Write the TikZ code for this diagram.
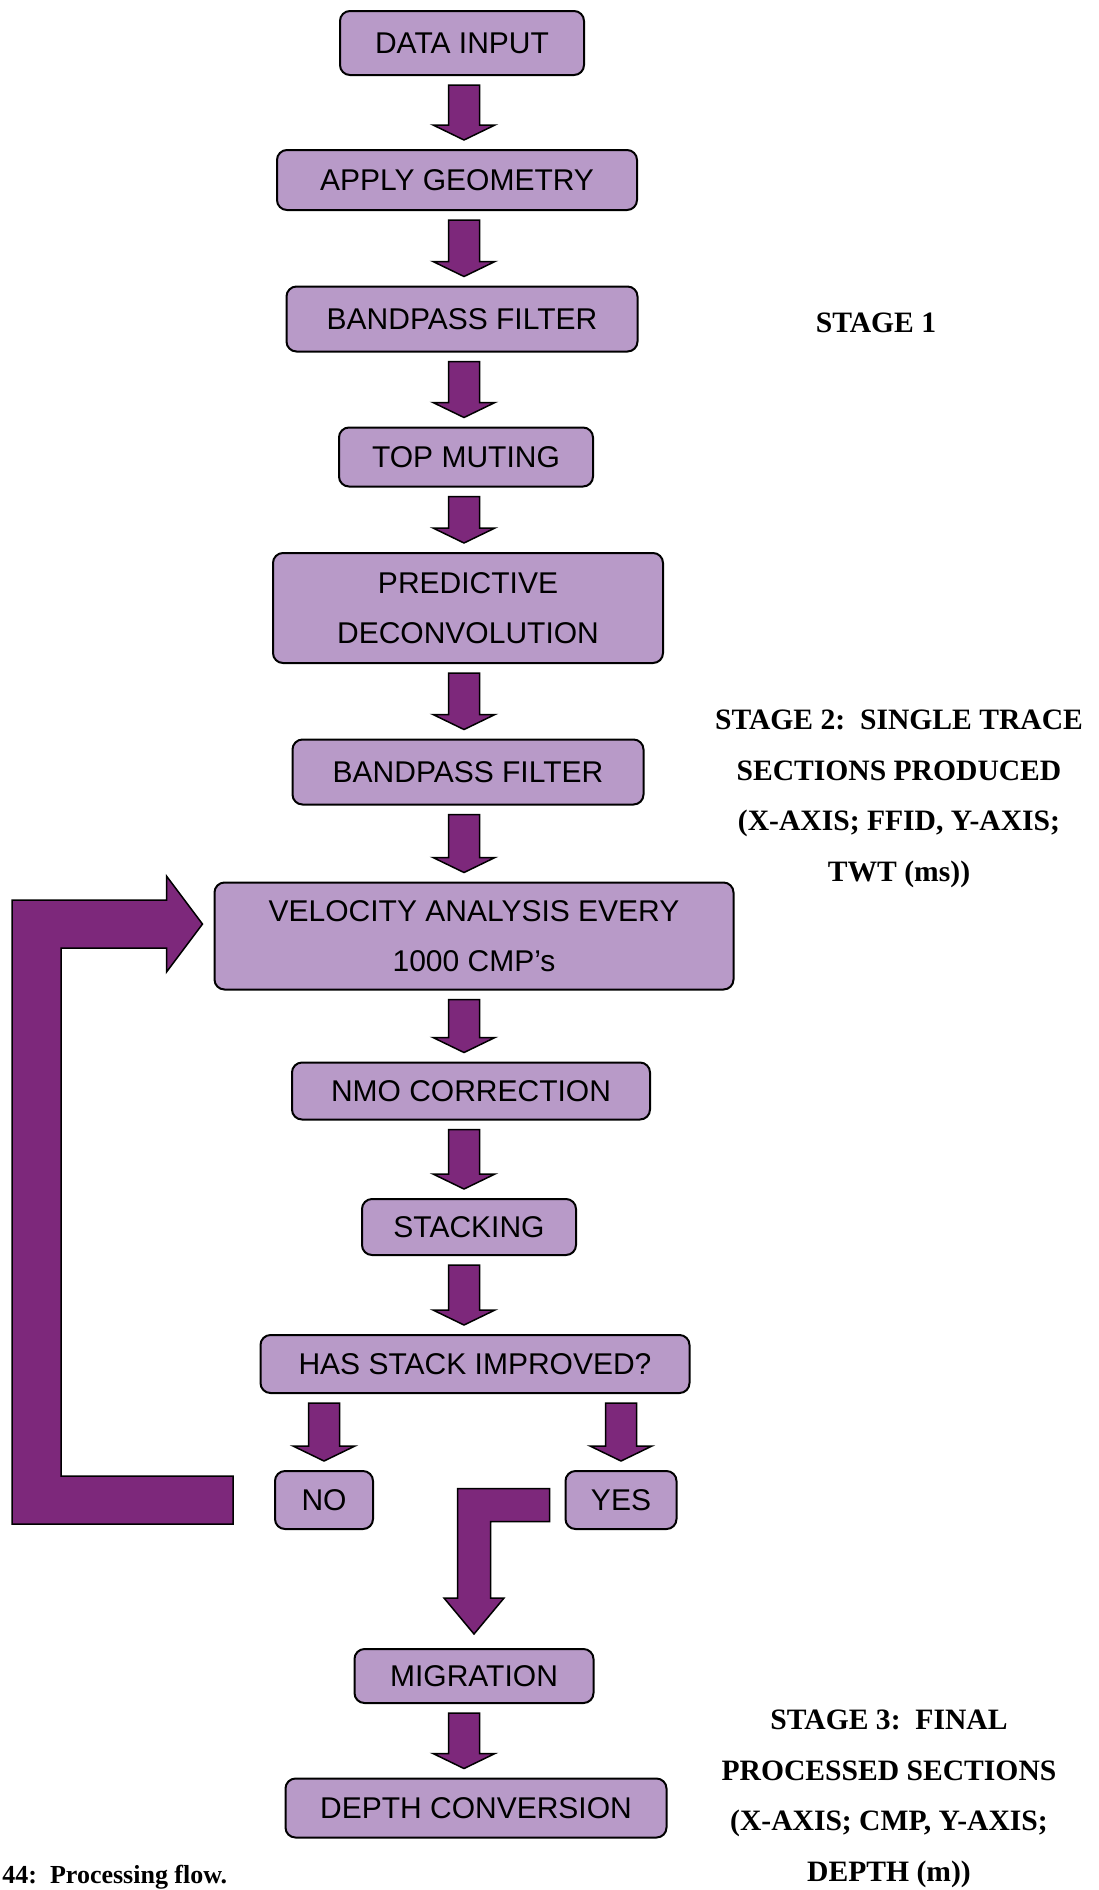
\documentclass[tikz,border=0pt]{standalone}
\usepackage{fontspec}
\setmainfont{Liberation Serif}
\setsansfont{Liberation Sans}
\usetikzlibrary{calc}

\definecolor{boxlilac}{RGB}{184,154,200}
\definecolor{arrowplum}{RGB}{125,40,123}

\tikzset{
	procbox/.style={draw=black, line width=1pt, fill=boxlilac, rounded corners=5pt, align=center, inner sep=0pt, font=\sffamily\fontsize{15}{25.3}\selectfont},
	flowarrow/.style={draw=black, line width=0.75pt, fill=arrowplum, line join=miter},
	stagelabel/.style={align=center, font=\rmfamily\bfseries\fontsize{14.8}{25.3}\selectfont},
	captiontext/.style={inner sep=0pt, font=\rmfamily\bfseries\fontsize{13}{15}\selectfont}
}

% block arrow pointing down from box #2 onto box #3, on the column of #1
\newcommand\flowdown[3]{%
	\draw[flowarrow] let \p1=($(#1 |- #2.south)+(0,9)$), \p2=($(#1 |- #3.north)+(0,-9)$) in
		(\x2-7.75pt,\y1) -- (\x2+7.75pt,\y1) -- (\x2+7.75pt,\y2+7.5pt) -- (\x2+15.5pt,\y2+7.5pt)
		-- (\x2,\y2) -- (\x2-15.5pt,\y2+7.5pt) -- (\x2-7.75pt,\y2+7.5pt) -- cycle;}

\begin{document}
\begin{tikzpicture}[x=0.5pt, y=-0.5pt]
			%%%%% START %%%%%
			
			\clip (0,0) rectangle (1098,1890);
			
			\node[procbox, minimum width=122pt, minimum height=32pt] (din) at (462,43) {DATA INPUT};
			\node[procbox, minimum width=180pt, minimum height=30pt] (geom) at (457,180) {APPLY GEOMETRY};
			\node[procbox, minimum width=175.5pt, minimum height=32.5pt] (bp1) at (462,319) {BANDPASS FILTER};
			\node[procbox, minimum width=127pt, minimum height=29.5pt] (mute) at (466,457) {TOP MUTING};
			\node[procbox, minimum width=195pt, minimum height=55pt] (decon) at (468,608) {PREDICTIVE\\DECONVOLUTION};
			\node[procbox, minimum width=175.5pt, minimum height=32.5pt] (bp2) at (468,772) {BANDPASS FILTER};
			\node[procbox, minimum width=259.5pt, minimum height=53.5pt] (vel) at (474,936) {VELOCITY ANALYSIS EVERY\\1000 CMP’s};
			\node[procbox, minimum width=179pt, minimum height=28.5pt] (nmo) at (471,1091) {NMO CORRECTION};
			\node[procbox, minimum width=107pt, minimum height=28pt] (stack) at (469,1227) {STACKING};
			\node[procbox, minimum width=214.5pt, minimum height=29pt] (improved) at (475,1364) {HAS STACK IMPROVED?};
			\node[procbox, minimum width=49pt, minimum height=29pt] (no) at (324,1500) {NO};
			\node[procbox, minimum width=55.5pt, minimum height=29pt] (yes) at (621,1500) {YES};
			\node[procbox, minimum width=119.5pt, minimum height=27pt] (mig) at (474,1676) {MIGRATION};
			\node[procbox, minimum width=190.5pt, minimum height=29.5pt] (depth) at (476,1808) {DEPTH CONVERSION};
			
			% column the main arrows run down
			\coordinate (spine) at (464,0);
			
			\flowdown{spine}{din}{geom}
			\flowdown{spine}{geom}{bp1}
			\flowdown{spine}{bp1}{mute}
			\flowdown{spine}{mute}{decon}
			\flowdown{spine}{decon}{bp2}
			\flowdown{spine}{bp2}{vel}
			\flowdown{spine}{vel}{nmo}
			\flowdown{spine}{nmo}{stack}
			\flowdown{spine}{stack}{improved}
			\flowdown{no}{improved}{no}
			\flowdown{yes}{improved}{yes}
			\flowdown{spine}{mig}{depth}
			
			% loop back from NO to the velocity analysis
			\coordinate (fb-tail) at ($(no.west)+(-41,0)$);
			\coordinate (fb-tip) at ($(vel.west)+(-11,-12)$);
			\draw[flowarrow] let \p1=(fb-tail), \p2=(fb-tip) in
				(\x1,\y1+12pt) -- (\x1,\y1-12pt) -- (6pt,\y1-12pt) -- (6pt,\y2+12pt)
				-- (\x2-18pt,\y2+12pt) -- (\x2-18pt,\y2+24pt) -- (\x2,\y2) -- (\x2-18pt,\y2-24pt)
				-- (\x2-18pt,\y2-12pt) -- (30.5pt,\y2-12pt) -- (30.5pt,\y1+12pt) -- cycle;
			
			% YES goes on to migration
			\coordinate (ys-tail) at ($(yes.west)+(-15,5)$);
			\coordinate (ys-tip) at ($(mig.north)+(0,-14)$);
			\draw[flowarrow] let \p1=(ys-tail), \p2=(ys-tip) in
				(\x1,\y1+8.25pt) -- (\x2-8.25pt,\y1+8.25pt) -- (\x2-8.25pt,\y2+18pt) -- (\x2-15pt,\y2+18pt)
				-- (\x2,\y2) -- (\x2+15pt,\y2+18pt) -- (\x2+8.25pt,\y2+18pt) -- (\x2+8.25pt,\y1-8.25pt)
				-- (\x1,\y1-8.25pt) -- cycle;
			
			\node[stagelabel] (st1) at (876,323) {STAGE 1};
			\node[stagelabel] (st2) at (899,799) {STAGE 2:\ \ SINGLE TRACE\\SECTIONS PRODUCED\\(X-AXIS; FFID, Y-AXIS;\\TWT (ms))};
			\node[stagelabel] (st3) at (889,1799) {STAGE 3:\ \ FINAL\\PROCESSED SECTIONS\\(X-AXIS; CMP, Y-AXIS;\\DEPTH (m))};
			
			\node[captiontext, anchor=base west] (cap) at (2,1883) {44:\ \ Processing flow.};
			
			%%%%% END %%%%%
\end{tikzpicture}
\end{document}
